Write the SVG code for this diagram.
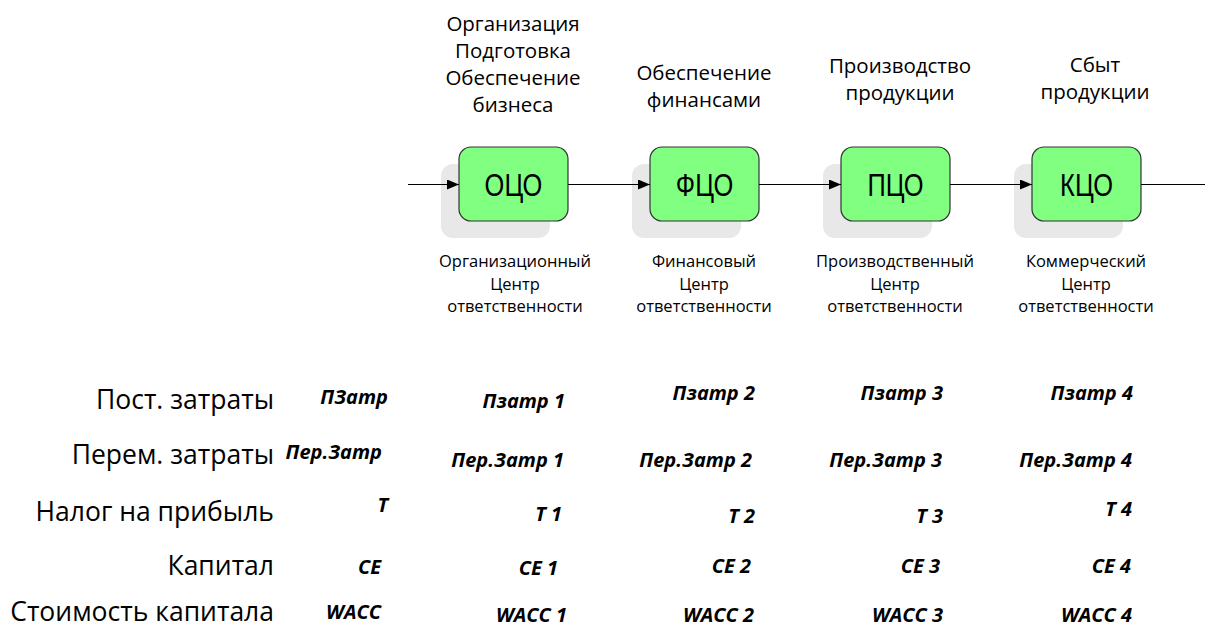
<svg xmlns="http://www.w3.org/2000/svg" width="1205" height="629" viewBox="0 0 1205 629">
  <style>
    text { font-family: "Open Sans", "Noto Sans", "DejaVu Sans", sans-serif; fill: #000; }
    .top { font-size: 20.5px; text-anchor: middle; }
    .sub { font-size: 16.5px; text-anchor: middle; }
    .row { font-size: 26.5px; text-anchor: end; }
    .val { font-size: 20px; font-weight: bold; font-style: italic; text-anchor: end; }
    .code { font-family: "Liberation Sans", Arial, sans-serif; font-size: 31px; text-anchor: middle; }
    .box { fill: #80ff80; stroke: #333; stroke-width: 1.2; }
    .shadow { fill: #e8e8e8; }
    .conn { stroke: #000; stroke-width: 1; fill: none; }
  </style>
  <defs>
    <marker id="arrow" viewBox="0 0 12 10" refX="12" refY="5" markerWidth="12" markerHeight="10" markerUnits="userSpaceOnUse" orient="auto">
      <path d="M0,0 L12,5 L0,10 z" fill="#000"/>
    </marker>
  </defs>

  <rect width="1205" height="629" fill="#fff"/>

  <g id="node-oco">
    <rect class="shadow" x="441" y="164" width="109" height="74" rx="12"/>
    <rect class="box" x="459" y="147" width="109" height="74" rx="12"/>
    <text class="code" transform="translate(513.5 195.5) scale(0.82 1)">ОЦО</text>
    <text class="top" x="513" y="31">Организация</text>
    <text class="top" x="513" y="58">Подготовка</text>
    <text class="top" x="513" y="85">Обеспечение</text>
    <text class="top" x="513" y="112">бизнеса</text>
    <text class="sub" x="515" y="267">Организационный</text>
    <text class="sub" x="515" y="290">Центр</text>
    <text class="sub" x="515" y="312">ответственности</text>
  </g>

  <g id="node-fco">
    <rect class="shadow" x="632" y="164" width="109" height="74" rx="12"/>
    <rect class="box" x="650" y="147" width="109" height="74" rx="12"/>
    <text class="code" transform="translate(704.5 195.5) scale(0.82 1)">ФЦО</text>
    <text class="top" x="704" y="80">Обеспечение</text>
    <text class="top" x="704" y="107">финансами</text>
    <text class="sub" x="704" y="267">Финансовый</text>
    <text class="sub" x="704" y="290">Центр</text>
    <text class="sub" x="704" y="312">ответственности</text>
  </g>

  <g id="node-pco">
    <rect class="shadow" x="823" y="164" width="109" height="74" rx="12"/>
    <rect class="box" x="841" y="147" width="109" height="74" rx="12"/>
    <text class="code" transform="translate(895.5 195.5) scale(0.82 1)">ПЦО</text>
    <text class="top" x="900" y="73">Производство</text>
    <text class="top" x="900" y="100">продукции</text>
    <text class="sub" x="895" y="267">Производственный</text>
    <text class="sub" x="895" y="290">Центр</text>
    <text class="sub" x="895" y="312">ответственности</text>
  </g>

  <g id="node-kco">
    <rect class="shadow" x="1014" y="164" width="109" height="74" rx="12"/>
    <rect class="box" x="1032" y="147" width="109" height="74" rx="12"/>
    <text class="code" transform="translate(1086.5 195.5) scale(0.82 1)">КЦО</text>
    <text class="top" x="1095" y="72">Сбыт</text>
    <text class="top" x="1095" y="99">продукции</text>
    <text class="sub" x="1086" y="267">Коммерческий</text>
    <text class="sub" x="1086" y="290">Центр</text>
    <text class="sub" x="1086" y="312">ответственности</text>
  </g>

  <!-- flow between responsibility centres, drawn over the shadows -->
  <g id="connectors">
    <line class="conn" x1="408" y1="184.5" x2="459" y2="184.5" marker-end="url(#arrow)"/>
    <line class="conn" x1="568" y1="184.5" x2="650" y2="184.5" marker-end="url(#arrow)"/>
    <line class="conn" x1="759" y1="184.5" x2="841" y2="184.5" marker-end="url(#arrow)"/>
    <line class="conn" x1="950" y1="184.5" x2="1032" y2="184.5" marker-end="url(#arrow)"/>
    <line class="conn" x1="1141" y1="184.5" x2="1205" y2="184.5"/>
  </g>

  <!-- indicator table -->
  <g id="row-fixed">
    <text class="row" x="274" y="409">Пост. затраты</text>
    <text class="val" x="388" y="404">ПЗатр</text>
    <text class="val" x="565" y="408">Пзатр 1</text>
    <text class="val" x="755" y="400">Пзатр 2</text>
    <text class="val" x="943" y="400">Пзатр 3</text>
    <text class="val" x="1133" y="400">Пзатр 4</text>
  </g>
  <g id="row-variable">
    <text class="row" x="274" y="464">Перем. затраты</text>
    <text class="val" x="382" y="459">Пер.Затр</text>
    <text class="val" x="564" y="467">Пер.Затр 1</text>
    <text class="val" x="752" y="467">Пер.Затр 2</text>
    <text class="val" x="942" y="467">Пер.Затр 3</text>
    <text class="val" x="1132" y="467">Пер.Затр 4</text>
  </g>
  <g id="row-tax">
    <text class="row" x="274" y="521">Налог на прибыль</text>
    <text class="val" x="388" y="512">T</text>
    <text class="val" x="562" y="521">T 1</text>
    <text class="val" x="755" y="523">T 2</text>
    <text class="val" x="943" y="523">T 3</text>
    <text class="val" x="1132" y="516">T 4</text>
  </g>
  <g id="row-capital">
    <text class="row" x="274" y="575">Капитал</text>
    <text class="val" x="381" y="574">CE</text>
    <text class="val" x="558" y="575">CE 1</text>
    <text class="val" x="751" y="573">CE 2</text>
    <text class="val" x="940" y="573">CE 3</text>
    <text class="val" x="1131" y="573">CE 4</text>
  </g>
  <g id="row-wacc">
    <text class="row" x="274" y="621">Стоимость капитала</text>
    <text class="val" x="381" y="619">WACC</text>
    <text class="val" x="567" y="622">WACC 1</text>
    <text class="val" x="754" y="622">WACC 2</text>
    <text class="val" x="943" y="622">WACC 3</text>
    <text class="val" x="1132" y="622">WACC 4</text>
  </g>
</svg>
